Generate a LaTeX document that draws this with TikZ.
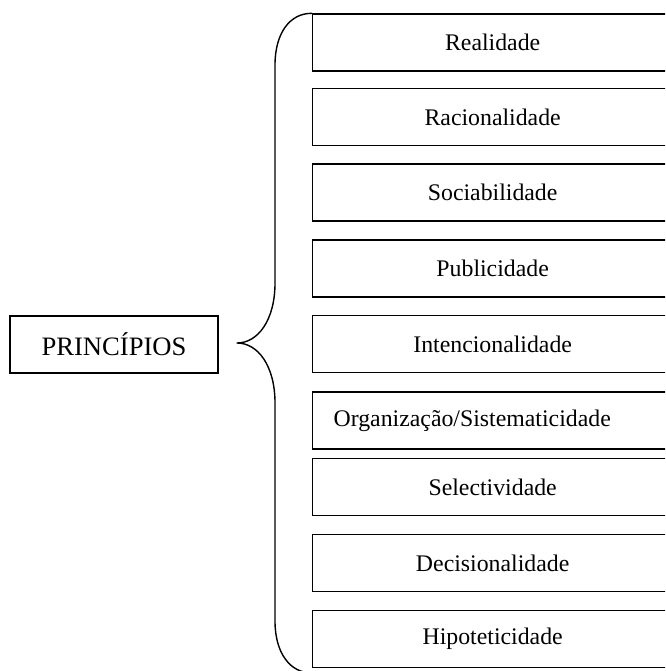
\documentclass[tikz,border=0pt]{standalone}
\usepackage{fontspec}
\setmainfont{Liberation Serif}
\begin{document}
\begin{tikzpicture}[x=1pt,y=-1pt,
  item/.style={draw=black, line width=1.3pt, minimum width=360pt, minimum height=57pt,
    anchor=west, inner sep=0pt, font=\fontsize{23.8}{28}\selectfont},
  head/.style={draw=black, line width=1.3pt, minimum width=208pt, minimum height=57pt,
    inner sep=0pt, font=\fontsize{26.6}{31}\selectfont},
  brace/.style={line width=1.4pt, line join=round}]
\useasboundingbox (0,0) rectangle (665,671);
\clip (0,0) rectangle (665,671);

% main heading
\node[head] (root) at (114,344.5) {PRINCÍPIOS};

% list of principles
\node[item] (b1) at (312,42.5) {Realidade};
\node[item] (b2) at (312,117) {Racionalidade};
\node[item] (b3) at (312,192.5) {Sociabilidade};
\node[item] (b4) at (312,268.5) {Publicidade};
\node[item] (b5) at (312,344) {Intencionalidade};
\node[item, text width=318pt, inner xsep=21pt, align=left] (b6) at (312,420.5) {Organização/Sistematicidade};
\node[item] (b7) at (312,487) {Selectividade};
\node[item] (b8) at (312,563) {Decisionalidade};
\node[item] (b9) at (312,639) {Hipoteticidade};

% curly brace grouping the principles
\draw[brace] (b1.north west)
  .. controls (290,13) and (275,33) .. (275,65)
  -- (275,283)
  .. controls (275,320) and (258,343) .. (237,343)
  .. controls (258,343) and (275,366) .. (275,403)
  -- (275,621)
  .. controls (275,653) and (290,673) .. (312,673);
\end{tikzpicture}
\end{document}
